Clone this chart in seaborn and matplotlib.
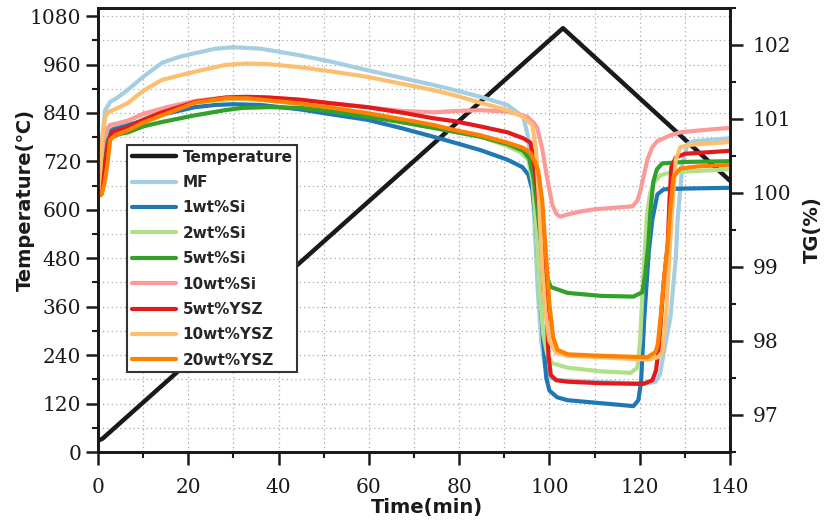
import matplotlib
matplotlib.use("Agg")
import matplotlib.pyplot as plt
from matplotlib.ticker import MultipleLocator
import numpy as np
import pandas as pd
import seaborn as sns

# ---------------- data ----------------
temp_t = [0, 1.0, 2.2, 103, 140]
temp_v = [28, 33, 45, 1050, 672]

mf_t = [0, 0.5, 0.9, 1.6, 2.7, 3.8, 5, 6.7, 10, 14.2, 18, 21.5, 26, 30, 36, 44.8, 52, 59.6, 67, 74.3, 79, 84.7, 90.7, 94.2,
        95.3, 96.0, 96.7, 97.4, 98.2, 99.0, 100, 102, 110, 118, 122, 123.5, 124.5, 125.5, 126.8, 128, 128.4, 129.5, 130.6, 132, 140]
mf_tg = [99.98, 100.35, 100.72, 101.12, 101.23, 101.27, 101.32, 101.40, 101.57, 101.76, 101.84, 101.89, 101.95, 101.97, 101.95,
         101.86, 101.77, 101.66, 101.56, 101.46, 101.39, 101.30, 101.19, 101.03,
         100.75, 100.3, 99.6, 98.7, 98.0, 97.65, 97.5, 97.47, 97.45, 97.43, 97.43, 97.45, 97.55, 97.9, 98.32, 99.13, 99.64,
         100.41, 100.66, 100.70, 100.74]

si1_t = [0, 0.6, 1.2, 2, 3.1, 4.5, 6.7, 10, 14.2, 21.5, 26, 30, 36, 44.8, 52, 59.6, 67, 74.3, 79, 84.7, 90.7, 94, 95.3,
         96.2, 97, 97.8, 98.6, 99.3, 100, 101.7, 104, 111.3, 118.6, 119.7, 120.3, 121, 122, 122.8, 123.9, 125.3, 130, 140]
si1_tg = [100.0, 100.3, 100.65, 100.8, 100.86, 100.88, 100.92, 100.98, 101.06, 101.16, 101.19, 101.20, 101.19, 101.13,
          101.06, 100.99, 100.88, 100.76, 100.68, 100.58, 100.45, 100.35, 100.25,
          100.05, 99.6, 98.8, 98.0, 97.5, 97.33, 97.24, 97.2, 97.16, 97.12, 97.2, 97.45, 98.3, 99.2, 99.64, 99.98, 100.05,
          100.06, 100.07]

si2_t = [0, 0.6, 1.3, 2.2, 3.5, 6.7, 10, 14.2, 21.5, 30, 36, 44.8, 52, 59.6, 67, 74.3, 84.7, 90.7, 93.6, 95.3,
         96.3, 97.1, 97.8, 98.6, 99.5, 100.6, 104, 111.3, 118, 119.5, 120.1, 120.8, 121.6, 122.3, 123.3, 124.6, 126.8, 140]
si2_tg = [100.0, 100.35, 100.7, 100.88, 100.93, 100.98, 101.06, 101.12, 101.22, 101.27, 101.26, 101.20, 101.13, 101.05,
          100.96, 100.88, 100.77, 100.63, 100.55, 100.45,
          100.15, 99.5, 98.7, 98.1, 97.82, 97.70, 97.64, 97.59, 97.57, 97.64, 98.0, 98.9, 99.7, 100.0, 100.15, 100.24,
          100.28, 100.32]

si5_t = [0, 0.6, 1.3, 2.2, 3.1, 5, 6.7, 10, 14.2, 21.5, 28.2, 32, 38, 44.8, 52, 59.6, 67, 74.3, 84.7, 90.7, 94.2, 95.5,
         96.5, 97.3, 98.3, 99.2, 100.3, 104, 111.3, 118.6, 120.6, 121.2, 121.9, 122.4, 123, 123.8, 125, 130, 140]
si5_tg = [100.0, 100.3, 100.6, 100.72, 100.76, 100.8, 100.82, 100.9, 100.96, 101.05, 101.12, 101.15, 101.16, 101.15,
          101.10, 101.03, 100.96, 100.88, 100.76, 100.66, 100.57, 100.47,
          100.2, 99.8, 99.25, 98.9, 98.73, 98.65, 98.61, 98.60, 98.66, 98.9, 99.3, 99.77, 100.15, 100.32, 100.40,
          100.42, 100.43]

si10_t = [0, 0.6, 1.3, 2.2, 2.7, 4.5, 6.4, 10, 15.2, 22, 30, 37, 44.8, 52, 59.6, 67, 74.3, 80, 84.7, 90.7, 95.1,
          96.5, 97.3, 98.4, 99.5, 100.6, 101.5, 102.4, 104, 106.9, 110, 114.2, 118.4, 119.5, 120.2, 121.7, 122.8,
          123.9, 126.8, 129, 134, 140]
si10_tg = [100.0, 100.4, 100.75, 100.88, 100.92, 100.94, 100.97, 101.07, 101.16, 101.25, 101.30, 101.29, 101.26,
           101.21, 101.16, 101.11, 101.09, 101.11, 101.12, 101.10, 101.03,
           100.95, 100.88, 100.6, 100.2, 99.85, 99.72, 99.68, 99.71, 99.75, 99.78, 99.80, 99.82, 99.9, 100.04,
           100.45, 100.62, 100.70, 100.78, 100.82, 100.85, 100.88]

ysz5_t = [0, 0.7, 1.3, 2, 2.6, 3.1, 4.5, 6.7, 10, 14.2, 21.5, 28.2, 33, 38, 44.8, 52, 59.6, 67, 74.3, 79, 84.7, 90.7,
          94.2, 95.8, 96.5, 97.3, 98, 98.7, 99.3, 99.8, 100.3, 101.5, 104, 111.3, 120.8, 122.8, 123.6, 124.2, 125.3,
          126.2, 126.6, 127, 128, 130, 140]
ysz5_tg = [99.97, 100.05, 100.25, 100.58, 100.75, 100.82, 100.85, 100.89, 100.99, 101.09, 101.23, 101.29, 101.30,
           101.29, 101.26, 101.21, 101.16, 101.09, 101.01, 100.97, 100.90, 100.82,
           100.74, 100.68, 100.45, 100.05, 99.65, 99.2, 98.5, 97.8, 97.54, 97.47, 97.45, 97.43, 97.42, 97.47, 97.6,
           97.88, 98.78, 99.3, 99.9, 100.35, 100.48, 100.53, 100.57]

ysz10_t = [0, 0.5, 0.9, 1.6, 2.2, 4.4, 6.7, 10, 14.2, 21.5, 28.2, 33, 38, 44.8, 52, 59.6, 67, 74.3, 79, 84.7, 90.7,
           94.2, 96.2, 97, 97.7, 98.4, 99.1, 100, 101.5, 104, 111, 118, 122, 124, 125, 125.8, 126.6, 127.3, 128,
           129, 131, 140]
ysz10_tg = [99.98, 100.3, 100.72, 101.03, 101.09, 101.15, 101.22, 101.38, 101.53, 101.64, 101.73, 101.75, 101.74,
            101.70, 101.64, 101.57, 101.48, 101.39, 101.32, 101.22, 101.12,
            101.03, 100.92, 100.6, 99.9, 99.0, 98.4, 98.0, 97.84, 97.80, 97.78, 97.76, 97.75, 97.78, 97.85, 98.3,
            99.2, 99.9, 100.45, 100.62, 100.65, 100.69]

ysz20_t = [0, 0.8, 1.5, 2, 2.7, 3.8, 5, 6.7, 10, 14.2, 21.5, 28.2, 33, 38, 44.8, 52, 59.6, 67, 74.3, 79, 84.7, 90.7,
           94.2, 95.8, 96.8, 97.5, 98.4, 99.2, 100, 100.8, 101.8, 104, 111.3, 121.7, 123.5, 124, 124.6, 125.3,
           126.2, 126.8, 127.5, 129, 133, 140]
ysz20_tg = [99.95, 99.98, 100.15, 100.35, 100.72, 100.78, 100.81, 100.85, 100.95, 101.05, 101.22, 101.28, 101.28,
            101.25, 101.21, 101.15, 101.08, 101.00, 100.92, 100.85, 100.78, 100.68,
            100.61, 100.54, 100.42, 100.3, 99.9, 99.2, 98.5, 98.05, 97.88, 97.82, 97.80, 97.78, 97.85, 97.95,
            98.3, 98.78, 99.3, 99.8, 100.22, 100.33, 100.36, 100.38]

series_names = ["MF", "1wt%Si", "2wt%Si", "5wt%Si", "10wt%Si", "5wt%YSZ", "10wt%YSZ", "20wt%YSZ"]
series_t = [mf_t, si1_t, si2_t, si5_t, si10_t, ysz5_t, ysz10_t, ysz20_t]
series_tg = [mf_tg, si1_tg, si2_tg, si5_tg, si10_tg, ysz5_tg, ysz10_tg, ysz20_tg]

temp_df = pd.DataFrame({"t": temp_t, "T": temp_v})
tg_df = pd.concat([pd.DataFrame({"t": t, "TG": v, "sample": n})
                   for n, t, v in zip(series_names, series_t, series_tg)], ignore_index=True)

# ---------------- style ----------------
sns.set_theme(style="white")
plt.rcParams["font.family"] = ["DejaVu Sans"]
plt.rcParams["axes.linewidth"] = 2.0

pal = dict(zip(series_names, sns.color_palette("Paired", 8)))

fig = plt.figure(figsize=(8.27, 5.23), dpi=100)
ax = fig.add_axes([98 / 827, 1 - 452 / 523, 632 / 827, 444 / 523])
ax2 = ax.twinx()

sns.lineplot(data=temp_df, x="t", y="T", ax=ax, color="#1a1a1a", lw=3.2, legend=False,
             sort=False, estimator=None)
sns.lineplot(data=tg_df, x="t", y="TG", hue="sample", hue_order=series_names, palette=pal, ax=ax2,
             lw=3, sort=False, estimator=None, units="sample", legend=False)

# axes ranges and ticks
ax.set_xlim(0, 140)
ax.set_ylim(0, 1100)
ax.set_xticks(range(0, 141, 20))
ax.set_yticks(range(0, 1081, 120))
ax.xaxis.set_minor_locator(MultipleLocator(10))
ax.yaxis.set_minor_locator(MultipleLocator(60))
ax2.set_ylim(96.5, 102.5)
ax2.set_yticks([97, 98, 99, 100, 101, 102])
ax2.yaxis.set_minor_locator(MultipleLocator(0.5))

ax.grid(which="both", axis="both", linestyle=(0, (1, 2.5)), color="#a8a8a8", lw=0.9)
ax.set_axisbelow(True)

for a in (ax, ax2):
    for s in a.spines.values():
        s.set_linewidth(2.0)
        s.set_color("#1a1a1a")

ax.tick_params(axis="x", which="major", direction="out", length=9.5, width=1.8, pad=9, colors="#1a1a1a",
               bottom=True, top=False)
ax.tick_params(axis="x", which="minor", direction="out", length=4.5, width=1.5, bottom=True, top=False,
               colors="#1a1a1a")
ax.tick_params(axis="y", which="major", direction="out", length=9, width=1.8, pad=3, colors="#1a1a1a",
               left=True, right=False)
ax.tick_params(axis="y", which="minor", direction="out", length=4.5, width=1.5, left=True, right=False,
               colors="#1a1a1a")
ax2.tick_params(axis="y", which="major", direction="out", length=9.5, width=1.8, pad=7, colors="#1a1a1a",
                right=True, left=False)
ax2.tick_params(axis="y", which="minor", direction="out", length=4.5, width=1.5, right=True, left=False,
                colors="#1a1a1a")
for lab in ax.get_xticklabels() + ax.get_yticklabels() + ax2.get_yticklabels():
    lab.set_fontfamily("DejaVu Serif")
    lab.set_fontsize(14.5)
    lab.set_color("#1a1a1a")

ax.set_xlabel("Time(min)", fontsize=14, fontweight="bold", color="#1a1a1a")
ax.set_ylabel("Temperature(℃)", fontsize=14, fontweight="bold", color="#1a1a1a")
ax2.set_ylabel("TG(%)", fontsize=14, fontweight="bold", labelpad=8, color="#1a1a1a")
ax.xaxis.set_label_coords((427 - 98) / 632, (452 - 508) / 444)
ax.yaxis.set_label_coords((25 - 98) / 632, (452 - 200) / 444)
ax.xaxis.label.set_va("center")
ax.yaxis.label.set_va("center")

handles = list(ax.get_lines()[:1]) + list(ax2.get_lines()[:8])
labels = ["Temperature"] + series_names
leg = ax2.legend(handles, labels, loc="upper left", bbox_to_anchor=((127 - 98) / 632, (452 - 145) / 444),
                 borderaxespad=0,
                 prop=dict(family="DejaVu Sans", weight="bold", size=11), handlelength=2.9,
                 handletextpad=0.45, labelspacing=0.68, borderpad=0.3, fancybox=False, framealpha=1,
                 edgecolor="#333333")
leg.get_frame().set_linewidth(1.5)

fig.savefig("out.png", dpi=100)
